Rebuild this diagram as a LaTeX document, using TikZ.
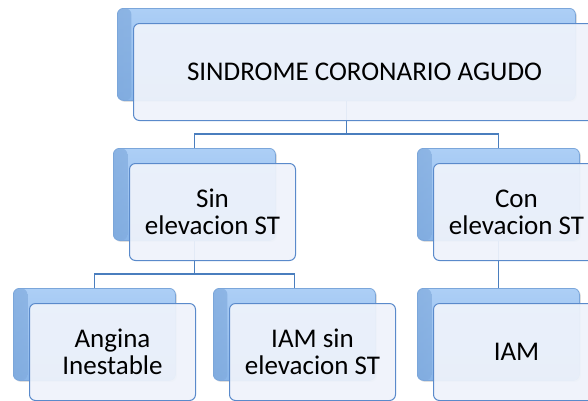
\documentclass[tikz,border=0pt]{standalone}
\usepackage{fontspec}
\setmainfont{Carlito}
\usetikzlibrary{calc,shadows}
\definecolor{backtop}{HTML}{ADCFF6}
\definecolor{backbot}{HTML}{8AB6E9}
\definecolor{backdark}{HTML}{7DA8DC}
\definecolor{backline}{HTML}{7BA6DA}
\definecolor{frontfill}{HTML}{EFF3FB}
\definecolor{frontline}{HTML}{5A8ACB}
\definecolor{wire}{HTML}{4A7EBE}
\tikzset{
  backbox/.style={rectangle, rounded corners=6pt, draw=backline, line width=0.8pt,
    top color=backtop, bottom color=backbot, minimum width=162pt, minimum height=92pt,
    anchor=north west, inner sep=0pt,
    drop shadow={opacity=0.25, shadow xshift=1.5pt, shadow yshift=-1.5pt},
    path picture={\shade[left color=backdark, right color=backtop, opacity=0.7]
      (path picture bounding box.north west) rectangle
      ([xshift=14pt]path picture bounding box.south west);}},
  frontbox/.style={rectangle, rounded corners=6pt, draw=frontline, line width=1pt,
    fill=frontfill, fill opacity=0.93, text opacity=1, minimum width=166pt,
    minimum height=97pt, align=center, inner sep=0pt,
    font=\fontsize{27}{27}\selectfont},
  wirestyle/.style={draw=wire, line width=1.4pt}
}
\begin{document}
\begin{tikzpicture}[x=1pt, y=-1pt]
\useasboundingbox (0,0) rectangle (588,400);
\fill[white] (0,0) rectangle (588,400);
% back layers
\node[backbox, minimum width=458pt] (b0) at (117,8) {};
\node[backbox] (b1) at (113,148) {};
\node[backbox] (b2) at (417,148) {};
\node[backbox] (b3) at (13,288) {};
\node[backbox] (b4) at (213,288) {};
\node[backbox] (b5) at (417,288) {};
% connectors between the back layers
\coordinate (j0) at ($(b0.south)+(0,33)$);
\coordinate (j1) at ($(b1.south)+(0,33)$);
\draw[wirestyle] (b0.south) -- (j0);
\draw[wirestyle] (j0) -| (b1.north);
\draw[wirestyle] (j0) -| (b2.north);
\draw[wirestyle] (b1.south) -- (j1);
\draw[wirestyle] (j1) -| (b3.north);
\draw[wirestyle] (j1) -| (b4.north);
\draw[wirestyle] (b2.south) -- (b5.north);
% front cards with the labels
\node[frontbox, minimum width=462pt, anchor=north west] (f0) at (133,23) {SINDROME CORONARIO AGUDO};
\node[frontbox, anchor=north west] (f1) at (129,163) {Sin\\elevacion ST};
\node[frontbox, anchor=north west] (f2) at (433,163) {Con\\elevacion ST};
\node[frontbox, anchor=north west] (f3) at (29,303) {Angina\\Inestable};
\node[frontbox, anchor=north west] (f4) at (229,303) {IAM sin\\elevacion ST};
\node[frontbox, anchor=north west] (f5) at (433,303) {IAM};
\end{tikzpicture}
\end{document}
